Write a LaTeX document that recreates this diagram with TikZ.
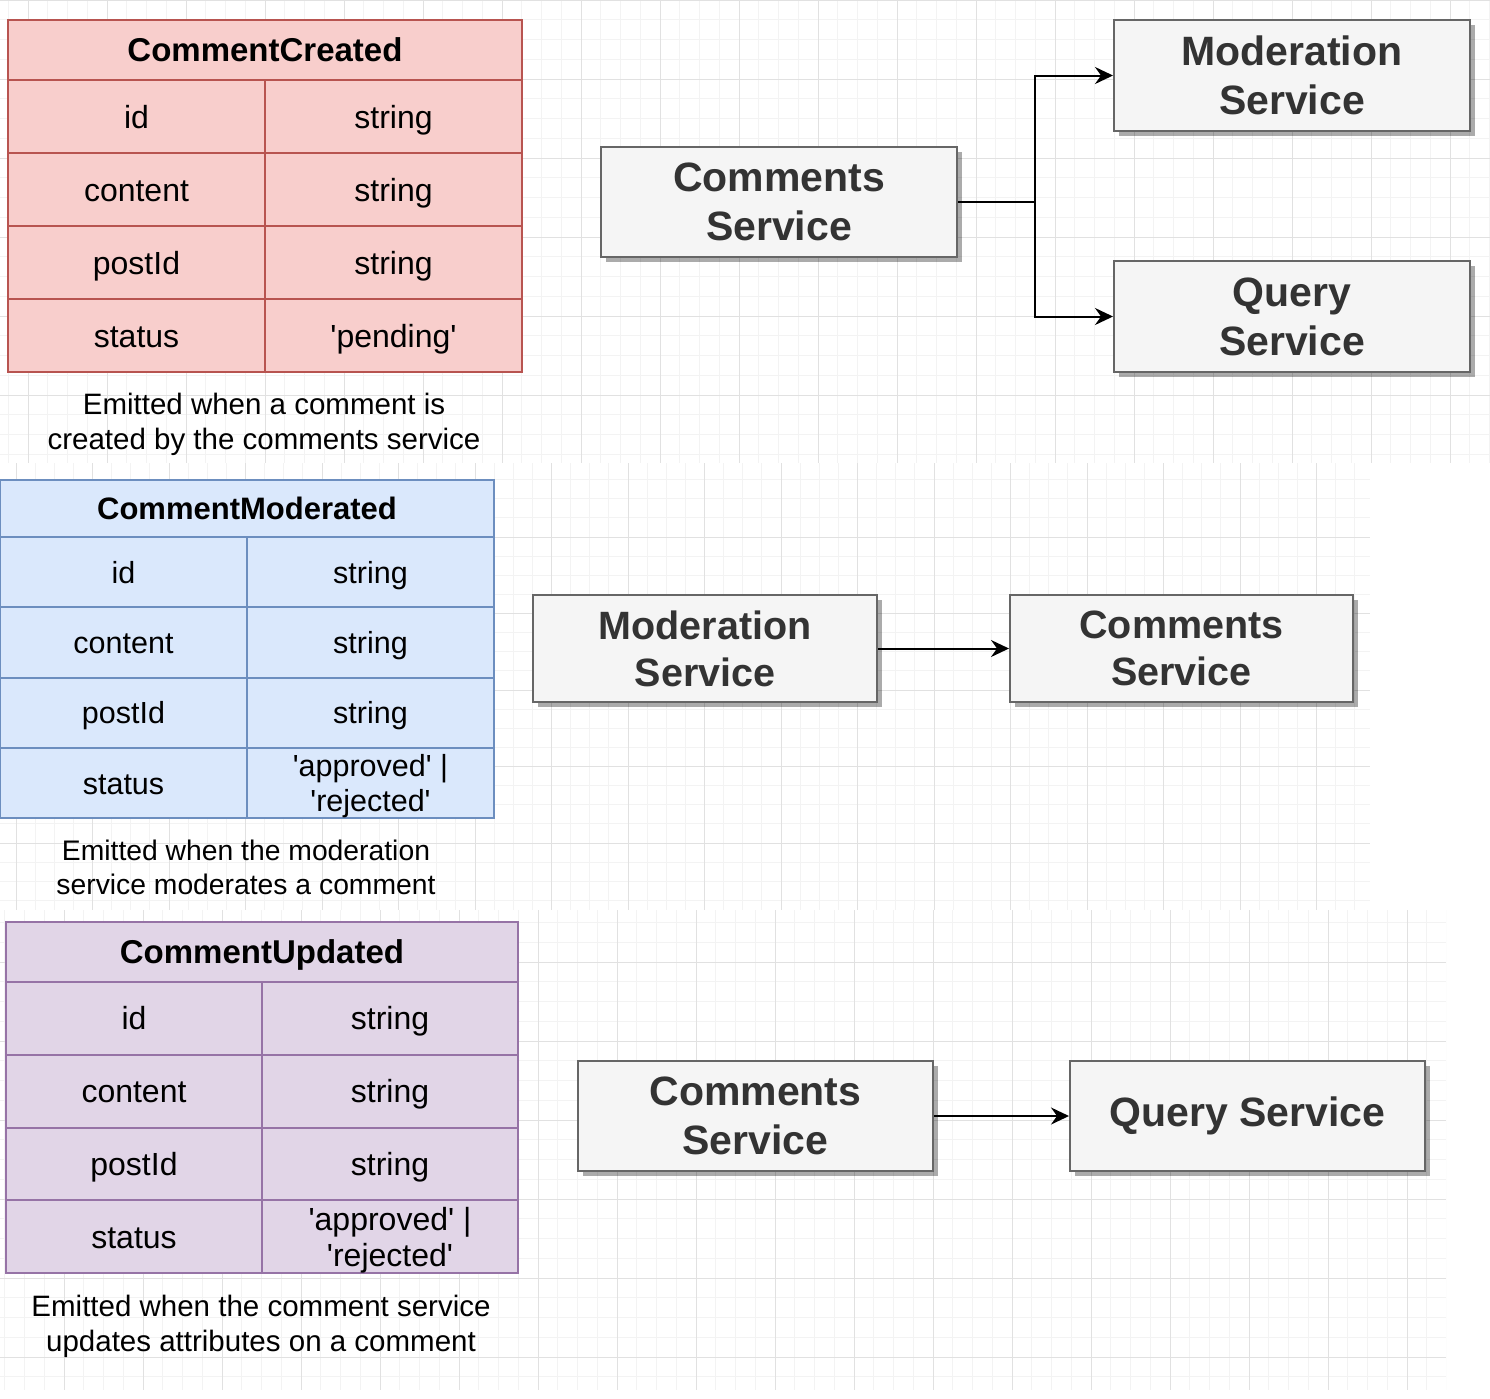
\documentclass[tikz,border=0pt]{standalone}
\usepackage{fontspec}
\setmainfont{Liberation Sans}
\usetikzlibrary{arrows.meta,shadows}
\definecolor{redfill}{HTML}{F8CECC}
\definecolor{redline}{HTML}{B85450}
\definecolor{bluefill}{HTML}{DAE8FC}
\definecolor{blueline}{HTML}{6C8EBF}
\definecolor{purplefill}{HTML}{E1D5E7}
\definecolor{purpleline}{HTML}{9673A6}
\definecolor{boxfill}{HTML}{F5F5F5}
\definecolor{boxline}{HTML}{666666}
\definecolor{boxtext}{HTML}{333333}
\definecolor{gridlight}{HTML}{F3F3F3}
\definecolor{griddark}{HTML}{E1E1E1}
\newcommand{\sq}{\textquotesingle}
\begin{document}
\begin{tikzpicture}[x=1pt,y=-1pt,
	gridminor/.style={draw=gridlight,line width=1pt},
	gridmajor/.style={draw=griddark,line width=1pt},
	rule/.style={line width=1.5pt},
	cell/.style={font=\fontsize{32}{36}\selectfont,align=center,text height=23pt,text depth=0pt},
	twoline/.style={text height={}},
	head/.style={font=\fontsize{33}{38}\selectfont\bfseries,text depth=0pt},
	note/.style={font=\fontsize{29.5}{35}\selectfont,align=center,text depth=0pt},
	service/.style={draw=boxline,fill=boxfill,line width=2pt,text=boxtext,
		font=\fontsize{41}{49}\selectfont\bfseries,align=center,
		minimum width=356pt,minimum height=110pt,inner sep=0pt,
		drop shadow={shadow xshift=5pt,shadow yshift=-5pt,opacity=.33,fill=black}},
	flow/.style={draw=black,line width=2pt,-{Stealth[length=18pt,width=17pt,inset=6pt]}}]
	\useasboundingbox[fill=white] (0,0) rectangle (1490,1398);
	\foreach \xa/\ya/\xb/\yb/\ox/\oy/\s in {0/0/1490/463/28/0/79,0/463/1370/910/16/460.5/76.5,0/910/1446/1390/64/883/79}
	{
		\begin{scope}
			\clip (\xa,\ya) rectangle (\xb,\yb);
			\foreach \k in {-4,...,80}
			{
				\draw[gridminor] ({\ox+\k*\s/4},\ya) -- ({\ox+\k*\s/4},\yb);
				\draw[gridminor] (\xa,{\oy+\k*\s/4}) -- (\xb,{\oy+\k*\s/4});
			}
			\foreach \k in {-1,...,20}
			{
				\draw[gridmajor] ({\ox+\k*\s},\ya) -- ({\ox+\k*\s},\yb);
				\draw[gridmajor] (\xa,{\oy+\k*\s}) -- (\xb,{\oy+\k*\s});
			}
		\end{scope}
	}

	\draw[rule,fill=redfill,draw=redline] (8,20) rectangle (522,372);
	\foreach \y in {80,153,226,299} \draw[rule,redline] (8,\y) -- (522,\y);
	\draw[rule,redline] (265,80) -- (265,372);
	\node[head] (cc-title) at (265,50) {CommentCreated};
	\foreach \f/\t [count=\i] in {id/string,content/string,postId/string,status/\sq pending\sq}
	{
		\node[cell] (cc-\f) at (136.5,{80+73*(\i-.5)}) {\f};
		\node[cell] (cc-\f-type) at (393.5,{80+73*(\i-.5)}) {\t};
	}
	\node[note] (cc-note) at (264,421.5) {Emitted when a comment is\\created by the comments service};

	\node[service] (cs-top) at (779,202) {Comments\\Service};
	\node[service,minimum height=111pt] (mod-top) at (1292,75.5) {Moderation\\Service};
	\node[service,minimum height=111pt] (query-top) at (1292,316.5) {Query\\Service};
	\coordinate (split) at (1035,202);
	\draw[flow] (cs-top.east) -- (split) |- (mod-top.west);
	\draw[flow] (split) |- (query-top.west);

	\begin{scope}[cell/.append style={font=\fontsize{30.5}{35}\selectfont,text height=22pt},
		head/.append style={font=\fontsize{31}{36}\selectfont\bfseries},
		note/.append style={font=\fontsize{28.3}{34}\selectfont},
		service/.append style={font=\fontsize{39.5}{47}\selectfont\bfseries,
			minimum width=344pt,minimum height=107pt}]
		\draw[rule,fill=bluefill,draw=blueline] (0,480) rectangle (494,818);
		\foreach \y in {537,607,678,748} \draw[rule,blueline] (0,\y) -- (494,\y);
		\draw[rule,blueline] (247,537) -- (247,818);
		\node[head] (cm-title) at (247,508.5) {CommentModerated};
		\foreach \f/\t [count=\i] in {id/string,content/string,postId/string}
		{
			\node[cell] (cm-\f) at (123.5,{537+70.25*(\i-.5)}) {\f};
			\node[cell] (cm-\f-type) at (370.5,{537+70.25*(\i-.5)}) {\t};
		}
		\node[cell] (cm-status) at (123.5,783) {status};
		\node[cell,twoline] (cm-status-type) at (370.5,783) {\sq approved\sq\ |\\\sq rejected\sq};
		\node[note] (cm-note) at (246,867) {Emitted when the moderation\\service moderates a comment};

		\node[service] (mod-mid) at (705,648.5) {Moderation\\Service};
		\node[service,minimum width=343pt] (cs-mid) at (1181.5,648.5) {Comments\\Service};
		\draw[flow] (mod-mid) -- (cs-mid);
	\end{scope}

	\draw[rule,fill=purplefill,draw=purpleline] (6,922) rectangle (518,1273);
	\foreach \y in {982,1055,1128,1200} \draw[rule,purpleline] (6,\y) -- (518,\y);
	\draw[rule,purpleline] (262,982) -- (262,1273);
	\node[head] (cu-title) at (262,952) {CommentUpdated};
	\foreach \f/\t [count=\i] in {id/string,content/string,postId/string}
	{
		\node[cell] (cu-\f) at (134,{982+72.75*(\i-.5)}) {\f};
		\node[cell] (cu-\f-type) at (390,{982+72.75*(\i-.5)}) {\t};
	}
	\node[cell] (cu-status) at (134,1237) {status};
	\node[cell,twoline] (cu-status-type) at (390,1237) {\sq approved\sq\ |\\\sq rejected\sq};
	\node[note] (cu-note) at (261,1323.5) {Emitted when the comment service\\updates attributes on a comment};

	\node[service,minimum width=355pt] (cs-low) at (755.5,1116) {Comments\\Service};
	\node[service,minimum width=355pt] (query-low) at (1247.5,1116) {Query Service};
	\draw[flow] (cs-low) -- (query-low);
\end{tikzpicture}
\end{document}
